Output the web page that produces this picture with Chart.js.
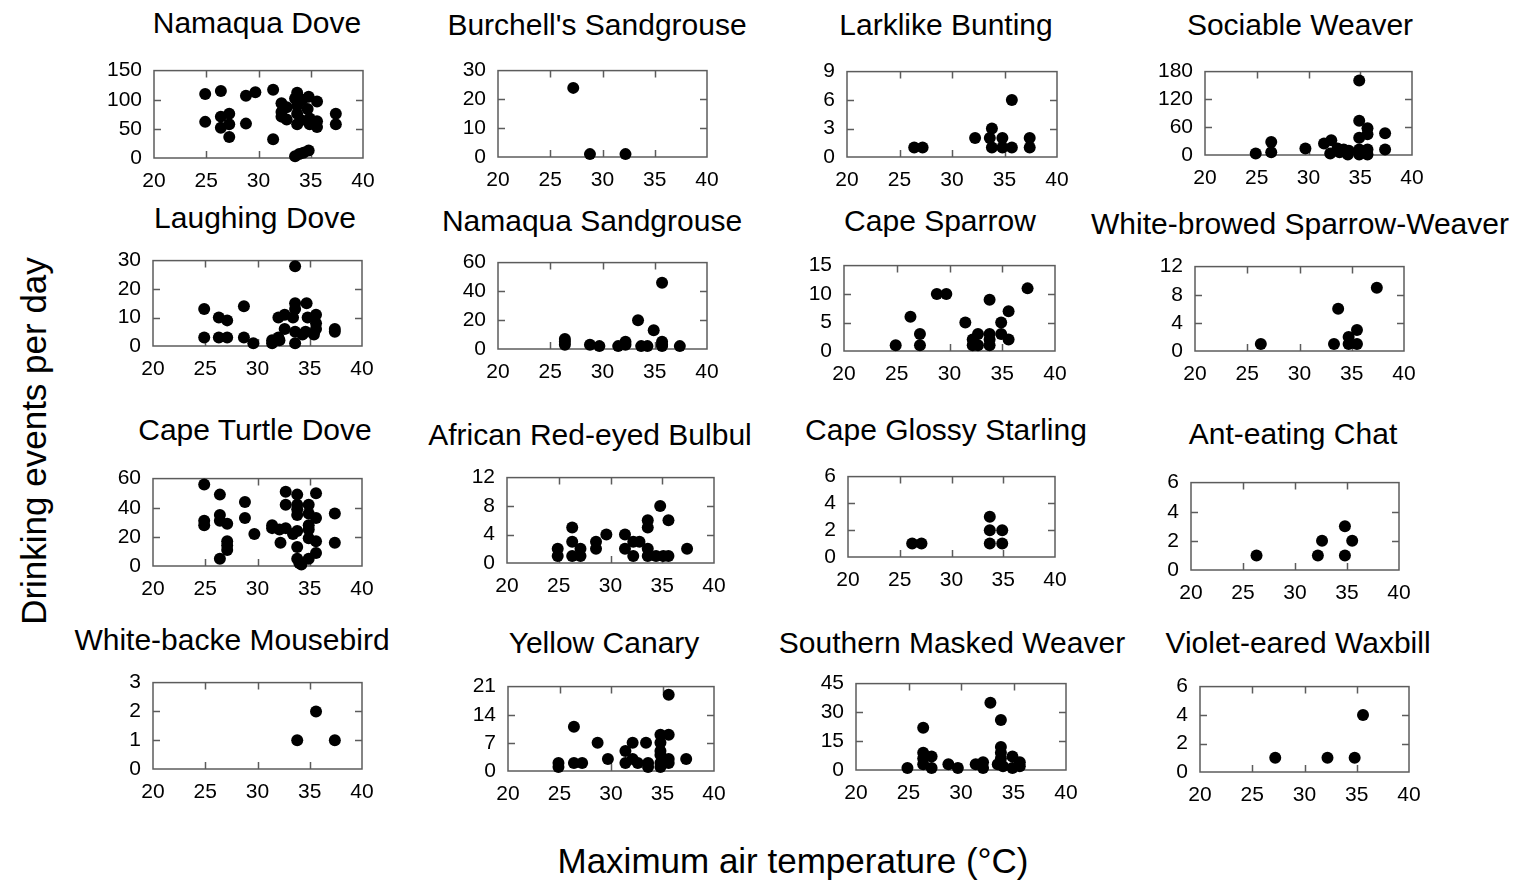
<!DOCTYPE html>
<html>
<head>
<meta charset="utf-8">
<script src="https://cdn.jsdelivr.net/npm/chart.js@4.4.0/dist/chart.umd.min.js"></script>
<style>
  body { margin: 0; background: #fff; }
  #page { position: relative; width: 1524px; height: 882px; overflow: hidden; font-family: "Liberation Sans", Arial, sans-serif; color: #000; }
  .panel { position: absolute; }
  .label { position: absolute; white-space: nowrap; line-height: 1; transform: translate(-50%, -50%); }
  .title { font-size: 30px; }
  .axis { font-size: 35px; }
</style>
</head>
<body>
<div id="page">
  <div class="label axis" style="left:33px; top:441px; transform:translate(-50%,-50%) rotate(-90deg);">Drinking events per day</div>
  <div class="label axis" style="left:793px; top:860px;">Maximum air temperature (°C)</div>
</div>
<script>
// each point: [max air temperature (°C), drinking events per day]
const namaquaDove = [[24.9,110],[24.9,62],[26.4,115],[26.4,71],[26.4,52],[27.2,76],[27.2,58],[27.2,36],[28.8,107],[28.8,59],[29.7,113],[31.4,117],[31.4,32],[32.2,94],[32.2,79],[32.2,71],[32.7,87],[32.7,66],[33.7,112],[33.5,102],[33.7,90],[33.7,76],[33.7,58],[33.5,3],[33.9,7],[34.3,9],[34.8,13],[34.8,105],[34.7,84],[34.9,68],[34.9,58],[35.6,97],[35.6,63],[35.6,53],[35.4,60],[37.4,76],[37.4,58],[34.2,100],[34.1,65]];
const burchellsSandgrouse = [[27.2,24],[28.8,1],[32.2,1]];
const larklikeBunting = [[26.4,1],[27.2,1],[32.2,2],[33.6,2],[33.8,3],[33.8,1],[34.8,2],[34.8,1],[35.7,6],[35.7,1],[37.4,2],[37.4,1]];
const sociableWeaver = [[24.9,3],[26.4,28],[26.4,6],[29.7,14],[31.5,25],[32.2,32],[32.1,3],[32.8,14],[33,6],[33.4,12],[33.9,9],[33.8,1],[34.9,161],[34.9,74],[34.9,37],[34.9,12],[34.9,1],[35.7,58],[35.7,45],[35.7,12],[35.7,1],[37.4,47],[37.4,12]];
const laughingDove = [[24.9,13],[24.9,3],[26.3,10],[26.3,3],[27.1,9],[27.1,3],[28.7,14],[28.7,3],[29.6,1],[31.4,2],[31.4,1],[32,3],[32,10],[32.6,11],[32.6,6],[32.1,2],[33.6,28],[33.6,15],[33.6,13],[33.4,10],[33.6,5],[33.6,1],[34.7,15],[34.8,10],[34.6,5],[34.3,4],[35.6,11],[35.6,8],[35.6,6],[35.4,4],[37.4,6],[37.4,5]];
const namaquaSandgrouse = [[26.4,7],[26.4,5],[26.4,3],[28.8,3],[29.7,2],[31.5,2],[32.2,5],[32.2,3],[33.4,20],[33.7,2],[34.3,2],[34.9,13],[35.7,46],[35.7,5],[35.7,3],[35.7,2],[37.4,2]];
const capeSparrow = [[24.9,1],[26.3,6],[27.2,3],[27.2,1],[28.8,10],[29.7,10],[31.5,5],[32.2,2],[32.2,1],[32.7,3],[32.7,1],[33.8,9],[33.8,3],[33.8,2],[33.8,1],[34.9,5],[34.9,3],[35.6,7],[35.6,2],[37.4,11]];
const whiteBrowedSparrowWeaver = [[26.3,1],[33.3,1],[33.7,6],[34.7,2],[34.7,1],[35.5,3],[35.5,1],[37.4,9]];
const capeTurtleDove = [[24.9,56],[24.9,31],[24.9,28],[26.4,49],[26.4,35],[26.4,31],[26.4,5],[27.1,29],[27.1,17],[27.1,14],[27.1,11],[28.8,44],[28.8,33],[29.7,22],[31.4,28],[31.4,26],[32.1,25],[32.2,16],[32.7,51],[32.7,42],[32.7,26],[33.4,22],[33.8,49],[33.8,42],[33.8,39],[33.8,35],[33.8,24],[33.8,13],[33.8,5],[34,2],[34.2,1],[34.9,42],[34.9,36],[34.9,28],[34.9,25],[34.9,19],[34.9,5],[35.6,50],[35.6,33],[35.6,17],[35.6,9],[37.4,36],[37.4,16]];
const redEyedBulbul = [[24.9,2],[24.9,1],[26.3,5],[26.3,3],[26.3,1],[27.1,2],[27.1,1],[28.6,3],[28.6,2],[29.6,4],[31.4,4],[31.4,2],[32.2,3],[32.2,1],[32.8,3],[33.6,6],[33.6,5],[33.6,2],[33.6,1],[34.4,1],[34.8,8],[35.1,1],[35.6,6],[35.6,1],[37.4,2]];
const capeGlossyStarling = [[26.2,1],[27.1,1],[33.7,3],[33.7,2],[33.7,1],[34.9,2],[34.9,1]];
const antEatingChat = [[26.3,1],[32.2,1],[32.6,2],[34.8,3],[34.8,1],[35.5,2]];
const mousebird = [[33.8,1],[35.6,2],[37.4,1]];
const yellowCanary = [[24.9,1],[24.9,2],[26.4,11],[26.4,2],[27.2,2],[28.7,7],[29.7,3],[31.4,5],[31.4,2],[32.1,7],[32.1,3],[32.6,2],[33.4,7],[33.6,2],[33.6,1],[34.8,9],[34.8,7],[34.8,5],[34.8,4],[34.8,2],[34.8,1],[35.6,19],[35.6,9],[35.6,3],[35.6,2],[37.3,3]];
const maskedWeaver = [[24.9,1],[26.4,22],[26.4,9],[26.4,6],[26.4,3],[27.2,7],[27.2,1],[28.8,3],[29.7,1],[31.4,3],[32.1,4],[32.1,1],[32.8,35],[33.8,26],[33.8,12],[33.8,9],[33.8,6],[33.5,3],[34,2],[34.9,7],[34.9,1],[35.6,4],[35.6,2]];
const violetEaredWaxbill = [[27.2,1],[32.2,1],[34.8,1],[35.6,4]];

const speciesNames = ['Namaqua Dove', "Burchell's Sandgrouse", 'Larklike Bunting', 'Sociable Weaver',
  'Laughing Dove', 'Namaqua Sandgrouse', 'Cape Sparrow', 'White-browed Sparrow-Weaver',
  'Cape Turtle Dove', 'African Red-eyed Bulbul', 'Cape Glossy Starling', 'Ant-eating Chat',
  'White-backe Mousebird', 'Yellow Canary', 'Southern Masked Weaver', 'Violet-eared Waxbill'];
const speciesData = [namaquaDove, burchellsSandgrouse, larklikeBunting, sociableWeaver,
  laughingDove, namaquaSandgrouse, capeSparrow, whiteBrowedSparrowWeaver,
  capeTurtleDove, redEyedBulbul, capeGlossyStarling, antEatingChat,
  mousebird, yellowCanary, maskedWeaver, violetEaredWaxbill];
const yMax = [150, 30, 9, 180, 30, 60, 15, 12, 60, 12, 6, 6, 3, 21, 45, 6];
const yStep = [50, 10, 3, 60, 10, 20, 5, 4, 20, 4, 2, 2, 1, 7, 15, 2];
const xMin = 20, xMax = 40, xStep = 5;

// page layout: plot box [left, top, right, bottom] and title centre [x, y]
const plotBoxes = [
  [154, 60, 363, 158], [498, 60, 707, 157], [847, 61, 1057, 157], [1205, 61, 1412, 155],
  [153, 250, 362, 346], [498, 252, 707, 349], [844, 255, 1055, 351], [1195, 256, 1404, 351],
  [153, 468, 362, 566], [507, 467, 714, 563], [848, 466, 1055, 557], [1191, 472, 1399, 570],
  [153, 672, 362, 769], [508, 676, 714, 771], [856, 673, 1066, 770], [1200, 676, 1409, 772]
];
const titlePos = [
  [257, 23], [597, 25], [946, 25], [1300, 25],
  [255, 218], [592, 221], [940, 221], [1300, 224],
  [255, 430], [590, 435], [946, 430], [1293, 434],
  [232, 640], [604, 643], [952, 643], [1298, 643]
];

const FONT = '"Liberation Sans", Arial, sans-serif';
const FRAME = '#5c5c5c';
const TICK = 7;
const PAD_TOP = 14, PAD_RIGHT = 24, Y_W = 60, X_H = 40;

// gray box round the plot plus inward tick marks on all four sides
const frameTicks = {
  id: 'frameTicks',
  beforeDatasetsDraw(chart) {
    const { ctx, chartArea: a, scales: { x, y } } = chart;
    ctx.save();
    ctx.strokeStyle = FRAME;
    ctx.lineWidth = 1.5;
    ctx.strokeRect(a.left, a.top, a.right - a.left, a.bottom - a.top);
    ctx.beginPath();
    x.ticks.forEach(t => {
      if (t.value <= x.min || t.value >= x.max) return;
      const px = Math.round(x.getPixelForValue(t.value)) + 0.5;
      ctx.moveTo(px, a.bottom); ctx.lineTo(px, a.bottom - TICK);
      ctx.moveTo(px, a.top); ctx.lineTo(px, a.top + TICK);
    });
    y.ticks.forEach(t => {
      if (t.value <= y.min || t.value >= y.max) return;
      const py = Math.round(y.getPixelForValue(t.value)) + 0.5;
      ctx.moveTo(a.left, py); ctx.lineTo(a.left + TICK, py);
      ctx.moveTo(a.right, py); ctx.lineTo(a.right - TICK, py);
    });
    ctx.stroke();
    ctx.restore();
  }
};

const page = document.getElementById('page');

speciesData.forEach((points, i) => {
  const [l, t, r, b] = plotBoxes[i];
  const wrap = document.createElement('div');
  wrap.className = 'panel';
  wrap.style.left = (l - Y_W) + 'px';
  wrap.style.top = (t - PAD_TOP) + 'px';
  const canvas = document.createElement('canvas');
  canvas.width = (r - l) + Y_W + PAD_RIGHT;
  canvas.height = (b - t) + PAD_TOP + X_H;
  wrap.appendChild(canvas);
  page.appendChild(wrap);

  const title = document.createElement('div');
  title.className = 'label title';
  title.style.left = titlePos[i][0] + 'px';
  title.style.top = titlePos[i][1] + 'px';
  title.textContent = speciesNames[i];
  page.appendChild(title);

  new Chart(canvas, {
    type: 'scatter',
    data: {
      datasets: [{
        data: points.map(p => ({ x: p[0], y: p[1] })),
        backgroundColor: '#000',
        borderColor: '#000',
        pointRadius: 6,
        pointHoverRadius: 6,
        borderWidth: 0,
        clip: false
      }]
    },
    options: {
      responsive: false,
      animation: false,
      layout: { padding: { left: 0, top: PAD_TOP, right: PAD_RIGHT, bottom: 0 } },
      plugins: { legend: { display: false }, tooltip: { enabled: false } },
      scales: {
        x: {
          type: 'linear', min: xMin, max: xMax,
          ticks: { stepSize: xStep, color: '#000', font: { family: FONT, size: 21 }, padding: 11, maxRotation: 0, autoSkip: false },
          grid: { display: false, drawTicks: false },
          border: { display: false },
          afterFit(s) { s.height = X_H; }
        },
        y: {
          type: 'linear', min: 0, max: yMax[i],
          ticks: { stepSize: yStep[i], color: '#000', font: { family: FONT, size: 21 }, padding: 12, autoSkip: false },
          grid: { display: false, drawTicks: false },
          border: { display: false },
          afterFit(s) { s.width = Y_W; }
        }
      }
    },
    plugins: [frameTicks]
  });
});
</script>
</body>
</html>
